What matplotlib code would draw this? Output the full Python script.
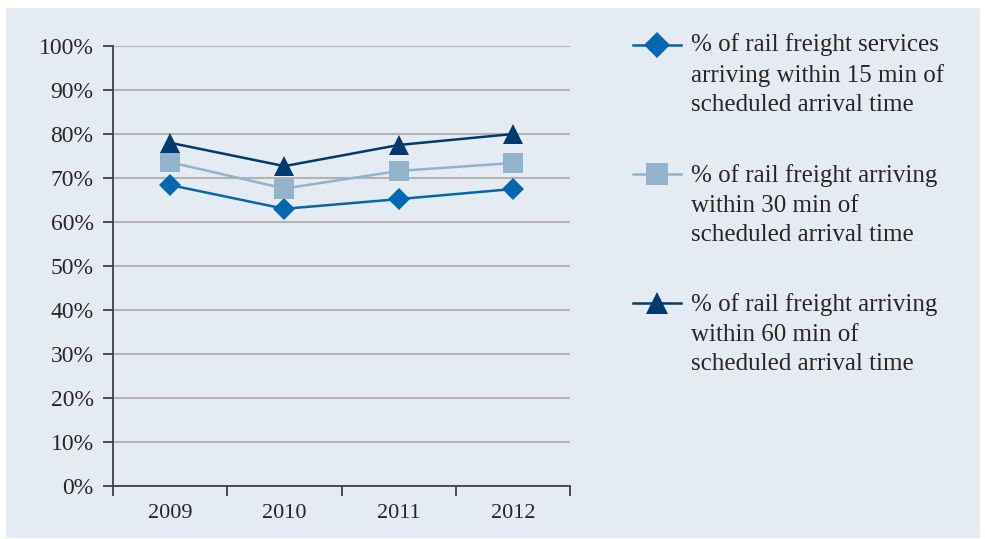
import matplotlib.pyplot as plt
from matplotlib.lines import Line2D
from matplotlib.patches import Rectangle
from matplotlib.ticker import FuncFormatter

years = ["2009", "2010", "2011", "2012"]
within_15 = [68.4, 63.0, 65.2, 67.5]
within_30 = [73.6, 67.6, 71.6, 73.4]
within_60 = [78.0, 72.7, 77.5, 80.0]

labels = [
    "% of rail freight services\narriving within 15 min of\nscheduled arrival time",
    "% of rail freight arriving\nwithin 30 min of\nscheduled arrival time",
    "% of rail freight arriving\nwithin 60 min of\nscheduled arrival time",
]

plt.rcParams["font.family"] = ["Liberation Serif", "DejaVu Serif"]

W, H = 985, 539
fig = plt.figure(figsize=(W / 100, H / 100), dpi=100)
fig.patch.set_facecolor("white")

# light panel behind everything
fig.add_artist(Rectangle((6 / W, 1 - 538 / H), 974 / W, 530 / H,
                         transform=fig.transFigure, facecolor="#e4ebf2",
                         edgecolor="none", zorder=0))

ax = fig.add_axes([113 / W, 1 - 486 / H, 457 / W, 440 / H])
ax.set_facecolor("none")

styles = [
    dict(color="#0068b0", marker="D", markersize=11),
    dict(color="#93b3cc", marker="s", markersize=14),
    dict(color="#003a70", marker="^", markersize=14),
]
series = [within_15, within_30, within_60]

x = range(len(years))
for vals, st in zip(series, styles):
    ax.plot(x, vals, linewidth=1.8, markeredgewidth=0, zorder=3, **st)

ax.set_xlim(-0.5, len(years) - 0.5)
ax.set_ylim(0, 100)
ax.set_yticks(range(0, 101, 10))
ax.yaxis.set_major_formatter(FuncFormatter(lambda v, p: f"{int(v)}%"))
ax.yaxis.grid(True, color="#b3b3b3", linewidth=1.5, zorder=1)
ax.set_axisbelow(True)

ax.set_xticks([i - 0.5 for i in range(len(years) + 1)])
ax.set_xticklabels([])
ax.set_xticks(list(x), minor=True)
ax.set_xticklabels(years, minor=True)
ax.tick_params(axis="x", which="minor", length=0, pad=13, labelsize=16, labelcolor="#262626")
ax.tick_params(axis="x", which="major", length=7, width=1.3, color="#404040", direction="out")
ax.tick_params(axis="y", length=7, width=1.3, color="#404040", pad=7, labelsize=17, labelcolor="#262626")

for s in ["top", "right"]:
    ax.spines[s].set_visible(False)
for s in ["left", "bottom"]:
    ax.spines[s].set_color("#404040")
    ax.spines[s].set_linewidth(1.3)

# legend, handle aligned with first text line; y of the last line's baseline
legend_y = [45, 174, 303]
legend_base = [111, 241, 370]
for lab, st, ly, lb in zip(labels, styles, legend_y, legend_base):
    yf = 1 - ly / H
    fig.add_artist(Line2D([633 / W, 681 / W], [yf, yf], transform=fig.transFigure,
                          linewidth=1.8, color=st["color"]))
    fig.add_artist(Line2D([657 / W], [yf], transform=fig.transFigure,
                          linestyle="none", markeredgewidth=0,
                          color=st["color"], marker=st["marker"],
                          markersize=st["markersize"] + 2))
    fig.text(691 / W, 1 - lb / H, lab, fontsize=18, color="#262626", va="baseline",
             linespacing=1.43, transform=fig.transFigure)

fig.savefig("out.png", dpi=100)
